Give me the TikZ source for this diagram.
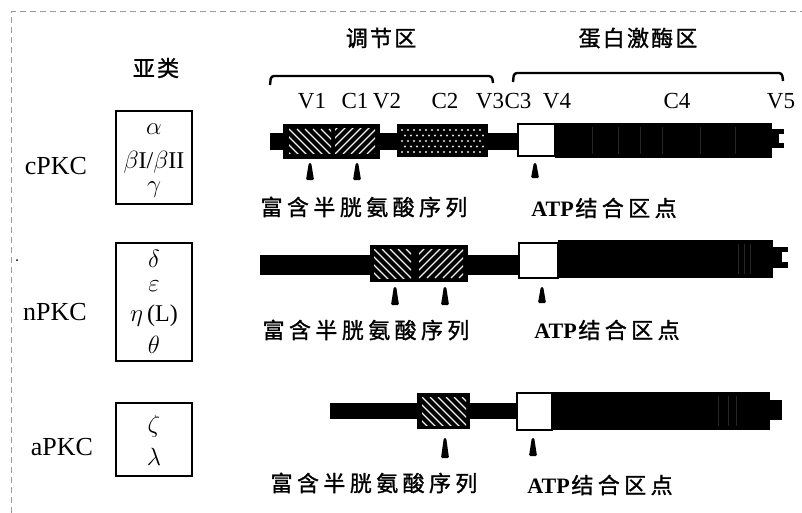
\documentclass[tikz,border=0pt]{standalone}
\usepackage{fontspec}
\setmainfont{Liberation Serif}
\newfontfamily\cjk[LetterSpace=20,FakeBold=1.3]{Noto Sans CJK SC}
\newfontfamily\cjkhead[LetterSpace=10,FakeBold=1.3]{Noto Sans CJK SC}
\tikzset{
  lbl/.style={font=\fontsize{23}{25}\selectfont, inner sep=0pt},
  grp/.style={font=\fontsize{26}{28}\selectfont, inner sep=0pt},
  gk/.style={font=\fontsize{24}{26}\selectfont, inner sep=0pt},
  cn/.style={font=\cjk\fontsize{22}{24}\selectfont, inner sep=0pt},
  head/.style={font=\cjkhead\fontsize{22}{24}\selectfont, inner sep=0pt},
  subbox/.style={draw, line width=1.8pt, inner sep=0pt},
  hatch/.style={draw=white!90!gray, line width=1.1pt},
  brace/.style={line width=2.4pt, rounded corners=3pt},
  frame/.style={draw=gray!80, line width=1pt, dash pattern=on 6pt off 4pt},
  c3box/.style={draw, line width=2pt, fill=white},
  streak/.style={draw=gray!30!black, line width=0.6pt},
}
\newcommand\hatchbs[4]{\begin{scope}\clip (#1,#2) rectangle (#3,#4);
  \foreach \k in {-48,-40,...,60} \draw[hatch] ({#1+\k},#2) -- ++(45,45);
  \end{scope}}
\newcommand\hatchfs[4]{\begin{scope}\clip (#1,#2) rectangle (#3,#4);
  \foreach \k in {-48,-40,...,60} \draw[hatch] ({#1+\k},#4) -- ++(45,-45);
  \end{scope}}
\newcommand\pin[3]{\fill[rounded corners=1.2pt] ({#1-1.2},#2) -- ({#1+1.2},#2) -- ({#1+4},#3) -- ({#1-4},#3) -- cycle;}
\newcommand\atptext{{\fontsize{22}{24}\selectfont\bfseries ATP}\,{\cjk\fontsize{22}{24}\selectfont 结合区点}}
\begin{document}
\begin{tikzpicture}[x=1pt,y=-1pt]
\useasboundingbox (0,0) rectangle (802,513);
% dashed frame
\draw[frame] (11,513) -- (11,12) -- (802,12);
\fill (17,260) circle (1pt);

% headers
\node[head] (hreg) at (381,38) {调节区};
\node[head] (hkin) at (638,38) {蛋白激酶区};
\node[head] (hsub) at (156,68) {亚类};

% braces
\draw[brace] (270,85) -- (271,76) -- (492,76) -- (493,83);
\draw[brace] (513,82) -- (514,73) -- (782,73) -- (783,81);

% domain labels
\node[lbl] (v1) at (312,101) {V1};
\node[lbl] (c1) at (355,101) {C1};
\node[lbl] (v2) at (387,101) {V2};
\node[lbl] (c2) at (445,101) {C2};
\node[lbl] (v3) at (490,101) {V3};
\node[lbl] (c3) at (518,101) {C3};
\node[lbl] (v4) at (557,101) {V4};
\node[lbl] (c4) at (677,101) {C4};
\node[lbl] (v5) at (781,101) {V5};

% subclass labels and boxes
\node[grp] (cpkc) at (56,166) {cPKC};
\node[grp] (npkc) at (55,312) {nPKC};
\node[grp] (apkc) at (62,447) {aPKC};

\node[subbox, minimum width=76pt, minimum height=93pt] (boxc) at (154,157.5) {};
\node[gk] (ga) at (154,129) {$\alpha$};
\node[gk] (gb) at (154,162) {$\beta$I/$\beta$II};
\node[gk] (gg) at (154,190) {$\gamma$};

\node[subbox, minimum width=76pt, minimum height=118pt] (boxn) at (154,302) {};
\node[gk] (gd) at (154,259) {$\delta$};
\node[gk] (ge) at (154,286) {$\varepsilon$};
\node[gk] (gh) at (154,316) {$\eta\,$(L)};
\node[gk] (gt) at (154,345) {$\theta$};

\node[subbox, minimum width=76pt, minimum height=73pt] (boxa) at (154,439.5) {};
\node[gk] (gz) at (154,426) {$\zeta$};
\node[gk] (gl) at (154,457) {$\lambda$};

% ===== cPKC bar =====
\fill (270,133) rectangle (520,150);
\fill (283,124) rectangle (380,159);
\fill (397,124) rectangle (488,157);
\fill (555,123) rectangle (772,158);
\fill (771,129) rectangle (784,148);
\fill[white] (779,134) rectangle (785,143);
\hatchbs{289}{129}{331}{154}
\hatchfs{335}{129}{375}{154}
\begin{scope}
  \clip (401,128) rectangle (484,153);
  \foreach \i in {0,...,14} \foreach \j in {0,...,4}
    \fill[white!80!gray] ({402+\i*6+mod(\j,2)*3},{130+\j*5.5}) circle (1.1pt);
\end{scope}
\foreach \s in {592,618,640,662,700,735}
  \draw[streak] (\s,127) -- (\s,154);
\draw[c3box] (518,124) rectangle (555,156);
\pin{310}{163}{180}
\pin{357}{163}{180}
\pin{535}{163}{178}
\node[cn] (cys1) at (364,207) {富含半胱氨酸序列};
\node[inner sep=0pt] (atp1) at (604,208) {\atptext};

% ===== nPKC bar =====
\fill (260,255) rectangle (520,275);
\fill (370,245) rectangle (468,282);
\fill (558,240) rectangle (773,278);
\fill (772,247) rectangle (788,268);
\fill[white] (782,252) rectangle (789,262);
\hatchbs{374}{249}{411}{278}
\hatchfs{419}{249}{463}{278}
\foreach \s in {738,744,750}
  \draw[streak] (\s,244) -- (\s,274);
\draw[c3box] (519,243) rectangle (558,278);
\pin{395}{287}{305}
\pin{445}{287}{305}
\pin{542}{287}{303}
\node[cn] (cys2) at (366,330) {富含半胱氨酸序列};
\node[inner sep=0pt] (atp2) at (607,330) {\atptext};

% ===== aPKC bar =====
\fill (330,403) rectangle (520,419);
\fill (417,393) rectangle (470,429);
\fill (552,392) rectangle (770,430);
\fill (769,400) rectangle (782,420);
\hatchbs{422}{397}{466}{425}
\foreach \s in {718,728,736}
  \draw[streak] (\s,396) -- (\s,426);
\draw[c3box] (517,393) rectangle (552,430);
\pin{445}{438}{458}
\pin{533}{438}{456}
\node[cn] (cys3) at (374,483) {富含半胱氨酸序列};
\node[inner sep=0pt] (atp3) at (600,485) {\atptext};
\end{tikzpicture}
\end{document}
